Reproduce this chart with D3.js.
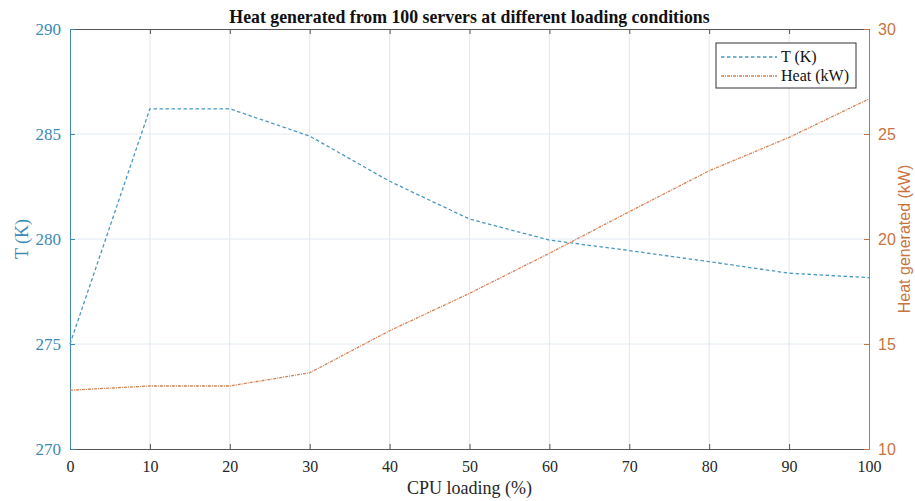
<!DOCTYPE html>
<html>
<head>
<meta charset="utf-8">
<script src="https://cdn.jsdelivr.net/npm/d3@7"></script>
<style>
  body { margin: 0; background: #fff; }
</style>
</head>
<body>
<div id="svganchor"></div>
<script>
let width = 915;
let height = 501;
let margin = ({top: 29, right: 46, bottom: 52, left: 70});

// data
let cpuLoading = [0, 10, 20, 30, 40, 50, 60, 70, 80, 90, 100];
let tempK = [275.0, 286.2, 286.2, 284.9, 282.75, 280.95, 279.95, 279.45, 278.92, 278.37, 278.16];
let heatKW = [12.8, 13.0, 13.0, 13.63, 15.63, 17.41, 19.32, 21.3, 23.25, 24.84, 26.67];

let xTicks = [0, 10, 20, 30, 40, 50, 60, 70, 80, 90, 100];
let leftTicks = [270, 275, 280, 285, 290];
let rightTicks = [10, 15, 20, 25, 30];

let blue = "#3d8ab5";
let orange = "#c8743f";
let serif = "Liberation Serif, Times New Roman, serif";
let sans = "Liberation Sans, Arial, sans-serif";

let svg = d3.select("#svganchor").append("svg")
    .attr("width", width)
    .attr("height", height);

let xScale = d3.scaleLinear().domain([0, 100]).range([margin.left, width - margin.right]);
let yLeft = d3.scaleLinear().domain([270, 290]).range([height - margin.bottom, margin.top]);
let yRight = d3.scaleLinear().domain([10, 30]).range([height - margin.bottom, margin.top]);

let x0 = margin.left, x1 = width - margin.right;
let y0 = height - margin.bottom, y1 = margin.top;

// grid lines
svg.append("g").selectAll("line").data(xTicks.slice(1, -1)).enter().append("line")
    .attr("x1", d => xScale(d)).attr("x2", d => xScale(d))
    .attr("y1", y1).attr("y2", y0)
    .attr("stroke", "#e3e6ea").attr("stroke-width", 1);
svg.append("g").selectAll("line").data(leftTicks.slice(1, -1)).enter().append("line")
    .attr("x1", x0).attr("x2", x1)
    .attr("y1", d => yLeft(d)).attr("y2", d => yLeft(d))
    .attr("stroke", "#e1eaf1").attr("stroke-width", 1);

// bottom axis
let xAxis = d3.axisBottom(xScale).tickValues(xTicks).tickSizeInner(-5).tickSizeOuter(0).tickPadding(12);
let gx = svg.append("g").attr("transform", "translate(0," + y0 + ")").call(xAxis)
    .attr("font-family", serif).attr("font-size", 16);
gx.select(".domain").attr("stroke", "#555");
gx.selectAll(".tick line").attr("stroke", "#555");
gx.selectAll(".tick text").attr("fill", "#262626");

// top axis (box line with ticks)
let xTop = d3.axisTop(xScale).tickValues(xTicks).tickSizeInner(-5).tickSizeOuter(0).tickFormat("");
let gt = svg.append("g").attr("transform", "translate(0," + y1 + ")").call(xTop);
gt.select(".domain").attr("stroke", "#555");
gt.selectAll(".tick line").attr("stroke", "#555");

// left axis
let yAxisL = d3.axisLeft(yLeft).tickValues(leftTicks).tickSizeInner(-5).tickSizeOuter(0).tickPadding(9);
let gl = svg.append("g").attr("transform", "translate(" + x0 + ",0)").call(yAxisL)
    .attr("font-family", serif).attr("font-size", 17);
gl.select(".domain").attr("stroke", blue);
gl.selectAll(".tick line").attr("stroke", blue);
gl.selectAll(".tick text").attr("fill", blue);

// right axis
let yAxisR = d3.axisRight(yRight).tickValues(rightTicks).tickSizeInner(-5).tickSizeOuter(0).tickPadding(9);
let gr = svg.append("g").attr("transform", "translate(" + x1 + ",0)").call(yAxisR)
    .attr("font-family", sans).attr("font-size", 16);
gr.select(".domain").attr("stroke", orange);
gr.selectAll(".tick line").attr("stroke", orange);
gr.selectAll(".tick text").attr("fill", orange);

// lines
let tLine = d3.line().x((d, i) => xScale(cpuLoading[i])).y(d => yLeft(d));
let hLine = d3.line().x((d, i) => xScale(cpuLoading[i])).y(d => yRight(d));

svg.append("path").datum(tempK)
    .attr("d", tLine)
    .attr("fill", "none")
    .attr("stroke", "#4b98bf")
    .attr("stroke-width", 1.3)
    .attr("stroke-dasharray", "3.5,2.5");

svg.append("path").datum(heatKW)
    .attr("d", hLine)
    .attr("fill", "none")
    .attr("stroke", "#d48456")
    .attr("stroke-width", 1.3)
    .attr("stroke-dasharray", "3,1,1,1");

// title
svg.append("text")
    .attr("x", (x0 + x1) / 2)
    .attr("y", 23)
    .attr("text-anchor", "middle")
    .attr("font-family", serif)
    .attr("font-weight", "bold")
    .attr("font-size", 17.8)
    .attr("fill", "#111")
    .text("Heat generated from 100 servers at different loading conditions");

// x label
svg.append("text")
    .attr("x", (x0 + x1) / 2)
    .attr("y", 494)
    .attr("text-anchor", "middle")
    .attr("font-family", serif)
    .attr("font-size", 18)
    .attr("fill", "#262626")
    .text("CPU loading (%)");

// left label
svg.append("text")
    .attr("transform", "translate(28," + ((y0 + y1) / 2) + ") rotate(-90)")
    .attr("text-anchor", "middle")
    .attr("font-family", serif)
    .attr("font-size", 18)
    .attr("fill", blue)
    .text("T (K)");

// right label
svg.append("text")
    .attr("transform", "translate(910," + ((y0 + y1) / 2) + ") rotate(-90)")
    .attr("text-anchor", "middle")
    .attr("font-family", sans)
    .attr("font-size", 16)
    .attr("fill", orange)
    .text("Heat generated (kW)");

// legend
let legend = svg.append("g").attr("transform", "translate(716,43)");
legend.append("rect")
    .attr("width", 140).attr("height", 45)
    .attr("fill", "#fff").attr("stroke", "#333").attr("stroke-width", 1);
let legendItems = [
    {name: "T (K)", color: "#4b98bf", dash: "3.5,2.5"},
    {name: "Heat (kW)", color: "#d48456", dash: "3,1,1,1"}
];
legendItems.forEach(function (d, i) {
    let yy = 14 + i * 19;
    legend.append("line")
        .attr("x1", 5).attr("x2", 61).attr("y1", yy).attr("y2", yy)
        .attr("stroke", d.color).attr("stroke-width", 1.3)
        .attr("stroke-dasharray", d.dash);
    legend.append("text")
        .attr("x", 65).attr("y", yy + 5)
        .attr("font-family", serif)
        .attr("font-size", 16)
        .attr("fill", "#111")
        .text(d.name);
});
</script>
</body>
</html>
